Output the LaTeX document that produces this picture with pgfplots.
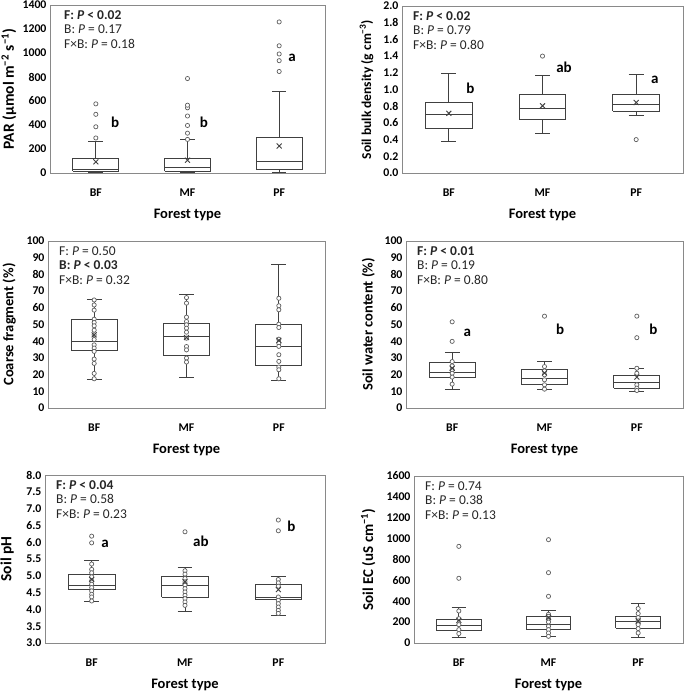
\documentclass[border=0pt]{standalone}
\usepackage{fontspec}
\setmainfont{Carlito}
\usepackage{pgfplots}
\pgfplotsset{compat=1.18}
\definecolor{framec}{HTML}{898989}
\definecolor{boxc}{HTML}{404040}
\definecolor{ptc}{HTML}{5E5E5E}
\definecolor{txtc}{HTML}{262626}
% box: position, lower whisker, q1, median, q3, upper whisker
\newcommand{\bx}[6]{%
 \pgfmathsetmacro{\xa}{#1-0.25}\pgfmathsetmacro{\xb}{#1+0.25}%
 \pgfmathsetmacro{\ca}{#1-0.08}\pgfmathsetmacro{\cb}{#1+0.08}%
 \addplot[boxc, line width=0.85pt, forget plot] coordinates {(#1,#2) (#1,#3)};
 \addplot[boxc, line width=0.85pt, forget plot] coordinates {(#1,#5) (#1,#6)};
 \addplot[boxc, line width=0.85pt, forget plot] coordinates {(\ca,#2) (\cb,#2)};
 \addplot[boxc, line width=0.85pt, forget plot] coordinates {(\ca,#6) (\cb,#6)};
 \addplot[boxc, fill=white, line width=0.85pt, line join=miter, forget plot] coordinates {(\xa,#3) (\xb,#3) (\xb,#5) (\xa,#5) (\xa,#3)};
 \addplot[boxc, line width=0.85pt, forget plot] coordinates {(\xa,#4) (\xb,#4)};
}
\pgfplotsset{
  panel/.style={
    scale only axis, anchor=south west, clip=false,
    xmin=0.5, xmax=3.5, xtick={1,2,3}, xticklabels={BF,MF,PF},
    axis line style={draw=framec, line width=0.8pt},
    major tick length=0pt,
    tick label style={font=\bfseries\fontsize{11.8}{12}\selectfont, text=black},
    xticklabel style={anchor=center, yshift=-19.5pt},
    xlabel={Forest type},
    xlabel style={font=\bfseries\fontsize{14.5}{15}\selectfont, at={(axis description cs:0.5,0)}, anchor=center, yshift=-42pt},
    ylabel style={font=\bfseries\fontsize{14.5}{15}\selectfont, anchor=center},
    /pgf/number format/assume math mode=true,
    /pgf/number format/1000 sep={},
  },
  pts/.style={only marks, mark=*, mark size=2.1pt, mark options={line width=0.7pt, fill=white, draw=ptc}},
  mn/.style={only marks, mark=x, mark size=3.5pt, mark options={line width=0.9pt, draw=boxc}},
}
\tikzset{
  ann/.style={anchor=north west, align=left, inner sep=0pt, text=txtc, font=\fontsize{13.5}{14.3}\selectfont, xshift=11pt, yshift=-5.5pt},
  sig/.style={font=\bfseries\fontsize{15}{16}\selectfont, text=black, inner sep=0pt},
}
\begin{document}
\begin{tikzpicture}
\path[use as bounding box] (0pt,0pt) rectangle (685pt,694pt);

% ---------- Panel 1: PAR ----------
\begin{axis}[panel, at={(50pt,521pt)}, width=275pt, height=168pt,
  ymin=0, ymax=1400, ytick={0,200,400,600,800,1000,1200,1400},
  ylabel={PAR (µmol m\textsuperscript{−2} s\textsuperscript{−1})},
  ylabel style={at={(axis description cs:-0.149,0.5)}, font=\bfseries\fontsize{15.5}{16}\selectfont}]
\bx{1}{2}{14}{30}{118}{261}
\bx{2}{3}{17}{45}{121}{276}
\bx{3}{5}{30}{96}{298}{683}
\addplot[pts] coordinates {(1,292) (1,385) (1,489) (1,576) (2,280) (2,332) (2,396) (2,475) (2,543) (2,565) (2,787) (3,846) (3,936) (3,992) (3,1060) (3,1259)};
\addplot[mn] coordinates {(1,93) (2,107) (3,225)};
\node[ann, xshift=3pt] at (rel axis cs:0,1) {\textbf{F: \textit{P} < 0.02}\\B: \textit{P} = 0.17\\F×B: \textit{P} = 0.18};
\node[sig] at (axis cs:1.21,426) {b};
\node[sig] at (axis cs:2.18,426) {b};
\node[sig] at (axis cs:3.14,961) {a};
\end{axis}

% ---------- Panel 2: Bulk density ----------
\begin{axis}[panel, at={(402pt,521pt)}, width=281pt, height=167pt,
  ymin=0, ymax=2, ytick={0,0.2,0.4,0.6,0.8,1.0,1.2,1.4,1.6,1.8,2.0},
  yticklabel style={/pgf/number format/.cd, fixed, fixed zerofill, precision=1},
  ylabel={Soil bulk density (g cm\textsuperscript{−3})},
  ylabel style={at={(axis description cs:-0.126,0.5)}, font=\bfseries\fontsize{13.5}{14}\selectfont}]
\bx{1}{0.378}{0.537}{0.705}{0.844}{1.195}
\bx{2}{0.478}{0.645}{0.777}{0.944}{1.167}
\bx{3}{0.685}{0.741}{0.82}{0.944}{1.178}
\addplot[pts] coordinates {(2,1.40) (3,0.40)};
\addplot[mn] coordinates {(1,0.715) (2,0.804) (3,0.844)};
\node[ann] at (rel axis cs:0,1) {\textbf{F: \textit{P} < 0.02}\\B: \textit{P} = 0.79\\F×B: \textit{P} = 0.80};
\node[sig] at (axis cs:1.23,1.016) {b};
\node[sig] at (axis cs:2.23,1.27) {ab};
\node[sig] at (axis cs:3.2,1.115) {a};
\end{axis}

% ---------- Panel 3: Coarse fragment ----------
\begin{axis}[panel, at={(48pt,286pt)}, width=277pt, height=167pt,
  ymin=0, ymax=100, ytick={0,10,20,30,40,50,60,70,80,90,100},
  ylabel={Coarse fragment (\%)},
  ylabel style={at={(axis description cs:-0.14,0.5)}}]
\bx{1}{16.9}{34.4}{39.8}{53.2}{65.3}
\bx{2}{18.3}{31.3}{43.0}{50.4}{68.3}
\bx{3}{16.5}{25.3}{37.1}{50.2}{85.7}
\addplot[pts] coordinates {(1,64.7) (1,61.7) (1,58.6) (1,53.2) (1,51.2) (1,49.2) (1,46.6) (1,43.8) (1,41.0) (1,37.8) (1,35.9) (1,33.9) (1,29.3) (1,26.7) (1,20.7) (1,17.5)
 (2,66.1) (2,62.8) (2,54.4) (2,51.8) (2,49.8) (2,47.8) (2,45.4) (2,41.8) (2,36.8) (2,34.8) (2,29.9) (2,27.5)
 (3,65.7) (3,61.2) (3,58.8) (3,50.2) (3,48.2) (3,41.2) (3,38.8) (3,36.9) (3,31.9) (3,27.9) (3,24.5) (3,22.9) (3,17.5)};
\addplot[mn] coordinates {(1,43.8) (2,42.2) (3,40.5)};
\node[ann] at (rel axis cs:0,1) {F: \textit{P} = 0.50\\\textbf{B: \textit{P} < 0.03}\\F×B: \textit{P} = 0.32};
\end{axis}

% ---------- Panel 4: Soil water content ----------
\begin{axis}[panel, at={(406pt,286pt)}, width=277pt, height=167pt,
  ymin=0, ymax=100, ytick={0,10,20,30,40,50,60,70,80,90,100},
  ylabel={Soil water content (\%)},
  ylabel style={at={(axis description cs:-0.136,0.5)}}]
\bx{1}{10.9}{18.5}{21.2}{27.2}{33.2}
\bx{2}{11.3}{14.3}{17.5}{22.8}{27.8}
\bx{3}{9.9}{11.9}{15.3}{19.3}{23.8}
\addplot[pts] coordinates {(1,51.6) (1,39.9) (1,27.8) (1,25.2) (1,22.8) (1,20.8) (1,18.5) (1,14.3)
 (2,55.0) (2,24.8) (2,22.2) (2,19.9) (2,16.9) (2,13.9) (2,11.3)
 (3,55.0) (3,42.1) (3,23.8) (3,20.8) (3,13.9) (3,11.9) (3,10.5)};
\addplot[mn] coordinates {(1,23.8) (2,21.0) (3,18.5)};
\node[ann] at (rel axis cs:0,1) {\textbf{F: \textit{P} < 0.01}\\B: \textit{P} = 0.19\\F×B: \textit{P} = 0.80};
\node[sig] at (axis cs:1.164,44.7) {a};
\node[sig] at (axis cs:2.17,47) {b};
\node[sig] at (axis cs:3.18,47) {b};
\end{axis}

% ---------- Panel 5: Soil pH ----------
\begin{axis}[panel, at={(45pt,51pt)}, width=280pt, height=168pt,
  ymin=3, ymax=8, ytick={3.0,3.5,4.0,4.5,5.0,5.5,6.0,6.5,7.0,7.5,8.0},
  yticklabel style={/pgf/number format/.cd, fixed, fixed zerofill, precision=1},
  ylabel={Soil pH},
  ylabel style={at={(axis description cs:-0.135,0.5)}, font=\bfseries\fontsize{15.5}{16}\selectfont}]
\bx{1}{4.25}{4.59}{4.72}{5.05}{5.45}
\bx{2}{3.95}{4.37}{4.70}{4.99}{5.25}
\bx{3}{3.83}{4.30}{4.37}{4.74}{4.97}
\addplot[pts] coordinates {(1,6.18) (1,5.98) (1,5.35) (1,5.19) (1,5.09) (1,4.97) (1,4.85) (1,4.75) (1,4.65) (1,4.55) (1,4.45) (1,4.37) (1,4.25)
 (2,6.31) (2,5.15) (2,5.05) (2,4.92) (2,4.82) (2,4.72) (2,4.62) (2,4.52) (2,4.42) (2,4.32) (2,4.22) (2,4.12)
 (3,6.66) (3,6.34) (3,4.89) (3,4.79) (3,4.69) (3,4.37) (3,4.27) (3,4.17) (3,4.07) (3,3.97) (3,3.88)};
\addplot[mn] coordinates {(1,4.89) (2,4.82) (3,4.59)};
\node[ann] at (rel axis cs:0,1) {\textbf{F: \textit{P} < 0.04}\\B: \textit{P} = 0.58\\F×B: \textit{P} = 0.23};
\node[sig] at (axis cs:1.143,5.96) {a};
\node[sig] at (axis cs:2.17,6.03) {ab};
\node[sig] at (axis cs:3.14,6.47) {b};
\end{axis}

% ---------- Panel 6: Soil EC ----------
\begin{axis}[panel, at={(414pt,51pt)}, width=269pt, height=167pt,
  ymin=0, ymax=1600, ytick={0,200,400,600,800,1000,1200,1400,1600},
  ylabel={Soil EC (uS cm\textsuperscript{−1})},
  ylabel style={at={(axis description cs:-0.17,0.5)}, font=\bfseries\fontsize{15}{16}\selectfont}]
\bx{1}{52}{122}{170}{224}{339}
\bx{2}{64}{134}{179}{256}{313}
\bx{3}{57}{141}{208}{256}{377}
\addplot[pts] coordinates {(1,926) (1,620) (1,307) (1,233) (1,176) (1,128) (1,90)
 (2,990) (2,674) (2,447) (2,275) (2,256) (2,233) (2,201) (2,160) (2,128) (2,96) (2,64)
 (3,330) (3,282) (3,243) (3,211) (3,176) (3,138) (3,96)};
\addplot[mn] coordinates {(1,217) (2,243) (3,211)};
\node[ann] at (rel axis cs:0,1) {F: \textit{P} = 0.74\\B: \textit{P} = 0.38\\F×B: \textit{P} = 0.13};
\end{axis}
\end{tikzpicture}
\end{document}
